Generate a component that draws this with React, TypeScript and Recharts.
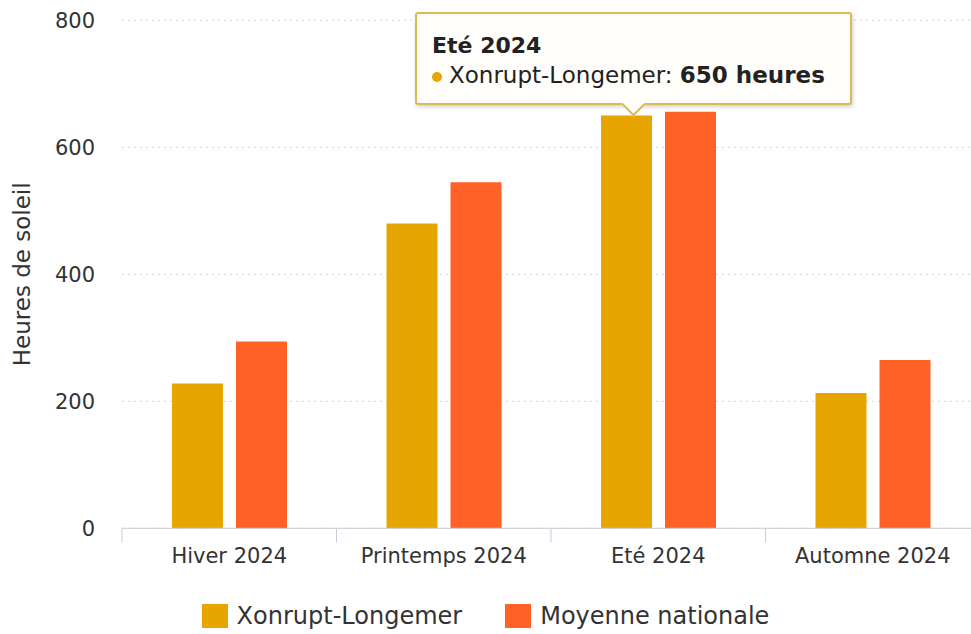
import { BarChart, Bar, XAxis, YAxis, CartesianGrid, Tooltip, Legend } from "recharts";

const categories = ["Hiver 2024", "Printemps 2024", "Eté 2024", "Automne 2024"];
const xonrupt = [228, 480, 650, 213];
const moyenne = [294, 545, 656, 265];
const yTicks = [0, 200, 400, 600, 800];
const seriesNames = ["Xonrupt-Longemer", "Moyenne nationale"];

const FONT = '"DejaVu Sans", sans-serif';
const GOLD = "#E6A500";
const ORANGE = "#FF6127";
const COLORS = [GOLD, ORANGE];
const TEXT = "#333";

const data = categories.map((name, i) => ({
  name,
  xonrupt: xonrupt[i],
  moyenne: moyenne[i],
}));

// category tick with a tick mark on the left edge of each band
const CategoryTick = (props: any) => {
  const { x, y, payload } = props;
  const edge = payload.coordinate - payload.offset;
  return (
    <g>
      <line x1={edge} x2={edge} y1={y - 20} y2={y - 6} stroke="#c8ccd6" />
      <text
        x={x}
        y={y}
        dy="0.71em"
        textAnchor="middle"
        fill={TEXT}
        fontSize={21}
        fontFamily={FONT}
      >
        {payload.value}
      </text>
    </g>
  );
};

const YTitle = (props: any) => {
  const vb = props.viewBox;
  const cx = vb.x + 22;
  const cy = vb.y + vb.height / 2;
  return (
    <text
      x={cx}
      y={cy}
      transform={`rotate(-90 ${cx} ${cy})`}
      textAnchor="middle"
      dominantBaseline="central"
      fill={TEXT}
      fontSize={23}
      fontFamily={FONT}
    >
      Heures de soleil
    </text>
  );
};

const TooltipBox = ({ payload, label }: any) => {
  if (!payload || payload.length === 0) return null;
  const item = payload[0];
  return (
    <div
      style={{
        position: "relative",
        boxSizing: "border-box",
        width: 437,
        height: 93,
        padding: "17px 15px 0 15px",
        background: "#fffefa",
        border: "2px solid #d8bb55",
        borderRadius: 3,
        boxShadow: "1px 2px 4px rgba(0,0,0,0.18)",
        fontFamily: FONT,
        color: "#222",
        whiteSpace: "nowrap",
      }}
    >
      <div style={{ fontSize: 22, lineHeight: "29px", fontWeight: "bold" }}>{label}</div>
      <div style={{ fontSize: 23, lineHeight: "30px" }}>
        <span
          style={{
            display: "inline-block",
            width: 10,
            height: 10,
            borderRadius: "50%",
            background: item.color,
            marginRight: 7,
            verticalAlign: "middle",
          }}
        />
        {item.name}: <b>{item.value} heures</b>
      </div>
      <div
        style={{
          position: "absolute",
          left: 208,
          bottom: -10,
          width: 15,
          height: 15,
          background: "#fffefa",
          borderRight: "2px solid #d8bb55",
          borderBottom: "2px solid #d8bb55",
          transform: "rotate(45deg)",
        }}
      />
    </div>
  );
};

const LegendRow = () => (
  <div
    style={{
      display: "flex",
      justifyContent: "center",
      alignItems: "center",
      gap: 43,
      height: 30,
      fontFamily: FONT,
      fontSize: 24,
      color: TEXT,
    }}
  >
    {seriesNames.map((name, i) => (
      <div key={name} style={{ display: "flex", alignItems: "center" }}>
        <span style={{ width: 26, height: 24, background: COLORS[i], marginRight: 9 }} />
        {name}
      </div>
    ))}
  </div>
);

export default function App() {
  return (
    <div
      style={{
        position: "absolute",
        left: 0,
        top: 0,
        width: 971,
        height: 634,
        overflow: "hidden",
        background: "#fff",
      }}
    >
      <BarChart
        width={990}
        height={634}
        data={data}
        margin={{ top: 20.3, right: 10, left: 0, bottom: 3 }}
        barSize={51}
        barGap={13}
      >
        <CartesianGrid vertical={false} stroke="#d4d4d4" strokeDasharray="2 4" />
        <XAxis
          dataKey="name"
          height={72.7}
          axisLine={{ stroke: "#c8ccd6" }}
          tickLine={false}
          tickSize={0}
          tickMargin={20}
          tick={<CategoryTick />}
          interval={0}
        />
        <YAxis
          width={122}
          domain={[0, 800]}
          ticks={yTicks}
          axisLine={false}
          tickLine={false}
          tickSize={0}
          tickMargin={27}
          tick={{ fontSize: 21, fill: TEXT, fontFamily: FONT }}
          label={{ content: YTitle }}
        />
        <Tooltip
          active={true}
          defaultIndex={2}
          cursor={false}
          isAnimationActive={false}
          position={{ x: 415, y: 12 }}
          content={<TooltipBox />}
          wrapperStyle={{ outline: "none", zIndex: 10 }}
        />
        <Legend
          verticalAlign="bottom"
          content={<LegendRow />}
          wrapperStyle={{ left: 0, width: 971, height: 30 }}
        />
        <Bar dataKey="xonrupt" name={seriesNames[0]} fill={GOLD} isAnimationActive={false} />
        <Bar dataKey="moyenne" name={seriesNames[1]} fill={ORANGE} isAnimationActive={false} />
      </BarChart>
    </div>
  );
}
